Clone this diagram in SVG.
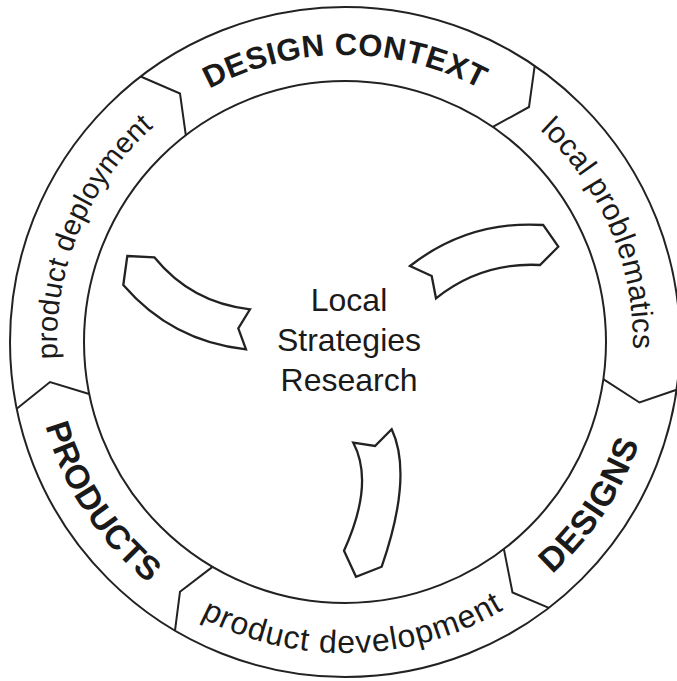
<svg xmlns="http://www.w3.org/2000/svg" width="677" height="681" viewBox="0 0 677 681">
  <style>
    .line { fill: none; stroke: #222; stroke-width: 2; stroke-linejoin: miter; }
    .arrow { fill: #fff; stroke: #222; stroke-width: 2.3; stroke-linejoin: miter; }
    .big { font-family: "Liberation Sans", Arial, sans-serif; font-weight: bold; fill: #1a1a1a; }
    .small { font-family: "Liberation Sans", Arial, sans-serif; fill: #1a1a1a; }
    .centre { font-family: "Liberation Sans", Arial, sans-serif; font-size: 32px; fill: #1a1a1a; text-anchor: middle; }
  </style>
  <defs>
    <!-- baselines for the ring labels; clockwise arcs put letter tops outward, counter-clockwise arcs put them inward -->
    <path id="arc-context" d="M 75.3 243.8 A 287 287 0 0 1 614.7 243.8"/>
    <path id="arc-problematics" d="M 329.9 54.4 A 288 288 0 0 1 541.4 552.6"/>
    <path id="arc-designs" d="M 272.4 644.4 A 311 311 0 0 0 595.0 157.0"/>
    <path id="arc-development" d="M 55.8 456.5 A 311 311 0 0 0 640.1 440.2"/>
    <path id="arc-products" d="M 95.6 156.1 A 311 311 0 0 0 416.5 644.7"/>
    <path id="arc-deployment" d="M 150.4 554.3 A 288 288 0 0 1 357.6 54.3"/>
  </defs>
  <rect width="677" height="681" fill="#fff"/>

  <!-- outer ring with chevron dividers -->
  <g id="ring" class="line">
    <circle cx="345" cy="342" r="335"/>
    <circle cx="345" cy="342" r="261"/>
    <polyline points="140.6,76.5 180,93.5 185.8,135.2"/>
    <polyline points="534.7,65.9 529,107 492.8,126.9"/>
    <polyline points="676.6,389.8 639.5,402.5 603.3,379.2"/>
    <polyline points="548.9,607.8 512.5,592.5 503.9,549.1"/>
    <polyline points="175,630.6 180,591.7 212.5,566.9"/>
    <polyline points="16.7,408.8 50,382 89.2,394"/>
  </g>

  <g id="design-context">
    <text class="big" font-size="31" letter-spacing="0.5" text-anchor="middle"><textPath href="#arc-context" startOffset="50%">DESIGN CONTEXT</textPath></text>
  </g>
  <g id="local-problematics">
    <text class="small" font-size="30" letter-spacing="0.3" text-anchor="middle"><textPath href="#arc-problematics" startOffset="50%">local problematics</textPath></text>
  </g>
  <g id="designs">
    <text class="big" font-size="34" letter-spacing="1" text-anchor="middle"><textPath href="#arc-designs" startOffset="50%">DESIGNS</textPath></text>
  </g>
  <g id="product-development">
    <text class="small" font-size="32" letter-spacing="1" text-anchor="middle"><textPath href="#arc-development" startOffset="50%">product development</textPath></text>
  </g>
  <g id="products">
    <text class="big" font-size="33.5" letter-spacing="0.5" text-anchor="middle"><textPath href="#arc-products" startOffset="50%">PRODUCTS</textPath></text>
  </g>
  <g id="product-deployment">
    <text class="small" font-size="29" letter-spacing="0.3" text-anchor="middle"><textPath href="#arc-deployment" startOffset="50%">product deployment</textPath></text>
  </g>

  <g id="local-strategies-research">
    <text class="centre" x="349" y="311">Local</text>
    <text class="centre" x="349" y="351">Strategies</text>
    <text class="centre" x="349" y="391">Research</text>
  </g>

  <!-- curved arrows pointing out from the centre -->
  <g id="connectors">
    <path class="arrow" d="M 127.3 256 L 154.3 257.3 Q 191.4 302.9 250 309.3 L 238.3 328.3 L 246 349.3 Q 171.9 341.4 123.3 285 Z"/>
    <path class="arrow" d="M 410 266 Q 468.9 220.1 543.3 225 L 558.3 246.7 L 540 265 Q 481.6 261.9 436 298.3 L 431.7 276 Z"/>
    <path class="arrow" d="M 353.3 442.7 L 375 446 L 391.7 429.3 Q 413.3 475.4 381.7 566.7 L 356 576.7 L 344 550.7 Q 374.7 483.3 353.3 442.7 Z"/>
  </g>
</svg>
